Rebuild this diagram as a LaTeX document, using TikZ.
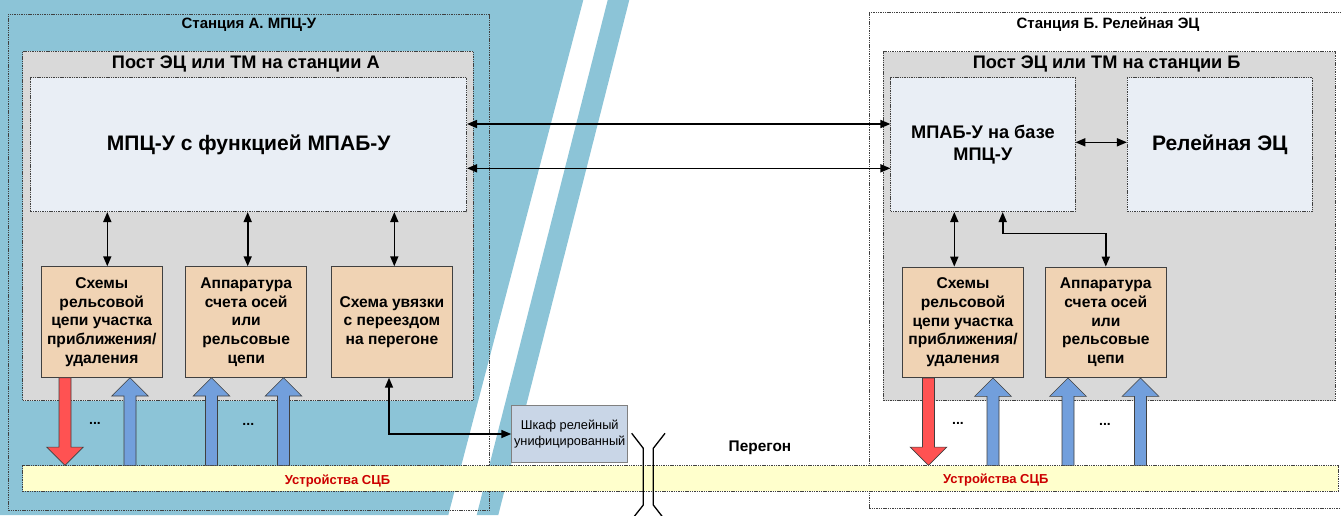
\documentclass[tikz,border=0pt]{standalone}
\usepackage{fontspec}
\setmainfont{Liberation Sans}
\usetikzlibrary{arrows.meta,calc}

\definecolor{bgblue}{HTML}{8CC4D7}
\definecolor{postgray}{HTML}{D9D9D9}
\definecolor{unitfill}{HTML}{E9EEF5}
\definecolor{blockfill}{HTML}{F0D3B4}
\definecolor{shkaffill}{HTML}{C9D6E7}
\definecolor{bandfill}{HTML}{FFFFCC}
\definecolor{fatred}{HTML}{FF5252}
\definecolor{fatblue}{HTML}{729FDC}
\definecolor{scbred}{HTML}{CC0000}
\definecolor{edgegray}{HTML}{404040}

\tikzset{
  dots/.style={draw=edgegray, line width=0.7pt, dash pattern=on 1.4pt off 0.9pt},
  stationbox/.style={dots, inner sep=0pt},
  postbox/.style={dots, fill=postgray, inner sep=0pt},
  unitbox/.style={dots, fill=unitfill, inner sep=0pt, align=center},
  blockbox/.style={draw=edgegray, line width=0.9pt, fill=blockfill, inner sep=0pt,
    minimum width=121pt, minimum height=110.5pt, align=center,
    font=\bfseries\fontsize{15.6}{18.75}\selectfont},
  shkafbox/.style={draw=gray, line width=0.9pt, fill=shkaffill, inner sep=0pt,
    minimum width=116pt, minimum height=56.6pt, align=center,
    font=\fontsize{12.8}{16.3}\selectfont},
  stitle/.style={font=\bfseries\fontsize{15}{18}\selectfont},
  ptitle/.style={font=\bfseries\fontsize{18.2}{21}\selectfont},
  dotstext/.style={font=\bfseries\fontsize{14}{16}\selectfont},
  scbtext/.style={text=scbred, font=\bfseries\fontsize{13}{16}\selectfont},
  link/.style={{Triangle[length=10pt,width=8pt]}-{Triangle[length=10pt,width=8pt]}, line width=1.6pt},
  redfat/.style={fill=fatred, draw=edgegray, line width=0.6pt},
  bluefat/.style={fill=fatblue, draw=edgegray, line width=0.6pt},
  brk/.style={line width=1.3pt}
}

% wide arrow between two points
\newcommand{\fatarrow}[3]{%
  \coordinate (fa) at (#2);
  \coordinate (fz) at (#3);
  \coordinate (fh) at ($(fz)!18.3pt!(fa)$);
  \draw[#1] ($(fa)!6pt!90:(fz)$) -- ($(fh)!6pt!90:(fz)$) -- ($(fh)!18.3pt!90:(fz)$) -- (fz)
    -- ($(fh)!18.3pt!-90:(fz)$) -- ($(fh)!6pt!-90:(fz)$) -- ($(fa)!6pt!-90:(fz)$) -- cycle;}

\begin{document}
\begin{tikzpicture}[x=1pt, y=-1pt]
    \useasboundingbox (0,0) rectangle (1341,515);
    \clip (0,0) rectangle (1341,515);
    % background
    \fill[bgblue] (0,0) -- (583.3,0) -- (448.3,515) -- (0,515) -- cycle;
    \fill[bgblue] (607.7,0) -- (629.3,0) -- (498.3,515) -- (476.7,515) -- cycle;

    % station A
    \node[stationbox, minimum width=481pt, minimum height=496.7pt] (stA) at (248.8,262.4) {};
    \node[stitle] (stAt) at (249,25) {Станция А. МПЦ-У};
    \node[postbox, minimum width=450.6pt, minimum height=349.5pt] (postA) at (248,225.8) {};
    \node[ptitle] (postAt) at (245.8,63.5) {Пост ЭЦ или ТМ на станции А};
    \node[unitbox, minimum width=436pt, minimum height=134pt,
      font=\bfseries\fontsize{21}{25}\selectfont] (mpcA) at (248.7,144.7) {МПЦ-У с функцией МПАБ-У};
    \node[blockbox] (rcA) at (101.7,322) {Схемы\\рельсовой\\цепи участка\\приближения/\\удаления};
    \node[blockbox] (acA) at (246.2,322) {Аппаратура\\счета осей\\или\\рельсовые\\цепи};
    \node[blockbox] (crossA) at (392,322) {Схема увязки\\с переездом\\на перегоне};

    % station B
    \node[stationbox, fill=white, minimum width=480.7pt, minimum height=495.3pt] (stB) at (1109.7,260.4) {};
    \node[stitle] (stBt) at (1108,24.5) {Станция Б. Релейная ЭЦ};
    \node[postbox, minimum width=451.7pt, minimum height=349pt] (postB) at (1109.2,226.2) {};
    \node[ptitle] (postBt) at (1106.7,63.5) {Пост ЭЦ или ТМ на станции Б};
    \node[unitbox, minimum width=184.3pt, minimum height=134pt,
      font=\bfseries\fontsize{18.2}{22}\selectfont] (mpabB) at (982.9,144.7) {МПАБ-У на базе\\МПЦ-У};
    \node[unitbox, minimum width=185pt, minimum height=134pt,
      font=\bfseries\fontsize{21}{25}\selectfont] (relB) at (1219.8,144.7) {Релейная ЭЦ};
    \node[blockbox] (rcB) at (963,322.3) {Схемы\\рельсовой\\цепи участка\\приближения/\\удаления};
    \node[blockbox] (acB) at (1105.8,322.3) {Аппаратура\\счета осей\\или\\рельсовые\\цепи};

    % peregon
    \node[shkafbox] (shkaf) at (569.7,434) {Шкаф релейный\\унифицированный};
    \node[font=\bfseries\fontsize{15.4}{18}\selectfont] (peregon) at (760,448) {Перегон};
    \node[dots, fill=bandfill, inner sep=0pt, minimum width=1315.6pt, minimum height=25.5pt] (band) at (680.5,478.5) {};
    \node[scbtext] (scbA) at (337.5,480.7) {Устройства СЦБ};
    \node[scbtext] (scbB) at (995.8,480) {Устройства СЦБ};
    \draw[brk] (631.7,433.3) -- (643.3,448.3) -- (643.3,505) -- (633,518);
    \draw[brk] (665,433.3) -- (653.3,448.3) -- (653.3,505) -- (663.4,518);

    % links
    \coordinate (cA1) at (107.3,0);
    \coordinate (cA2) at (247.7,0);
    \coordinate (cA3) at (394.3,0);
    \coordinate (cA4) at (389,0);
    \coordinate (cB1) at (954.3,0);
    \coordinate (cB2) at (1002.7,0);
    \draw[link] (mpcA.south -| cA1) -- (rcA.north -| cA1);
    \draw[link] (mpcA.south -| cA2) -- (acA.north -| cA2);
    \draw[link] (mpcA.south -| cA3) -- (crossA.north -| cA3);
    \draw[link] (crossA.south -| cA4) |- (shkaf.west);
    \draw[link] ([yshift=20.7pt]mpcA.east) -- ([yshift=20.7pt]mpabB.west);
    \draw[link] ([yshift=-23.6pt]mpcA.east) -- ([yshift=-23.6pt]mpabB.west);
    \draw[link] ([yshift=2.4pt]mpabB.east) -- ([yshift=2.4pt]relB.west);
    \draw[link] (mpabB.south -| cB1) -- (rcB.north -| cB1);
    \draw[link] (mpabB.south -| cB2) -- ++(0,21.6) -| (acB.north);

    % wide arrows
    \coordinate (fA1) at (65,0);
    \coordinate (fA2) at (130,0);
    \coordinate (fA3) at (211.5,0);
    \coordinate (fA4) at (283.5,0);
    \coordinate (fB1) at (928.5,0);
    \coordinate (fB2) at (993,0);
    \coordinate (fB3) at (1068,0);
    \coordinate (fB4) at (1140.5,0);
    \fatarrow{redfat}{rcA.south -| fA1}{band.north -| fA1}
    \fatarrow{bluefat}{band.north -| fA2}{rcA.south -| fA2}
    \fatarrow{bluefat}{band.north -| fA3}{acA.south -| fA3}
    \fatarrow{bluefat}{band.north -| fA4}{acA.south -| fA4}
    \fatarrow{redfat}{rcB.south -| fB1}{band.north -| fB1}
    \fatarrow{bluefat}{band.north -| fB2}{rcB.south -| fB2}
    \fatarrow{bluefat}{band.north -| fB3}{acB.south -| fB3}
    \fatarrow{bluefat}{band.north -| fB4}{acB.south -| fB4}
    \node[dotstext] (dA1) at (95,423) {...};
    \node[dotstext] (dA2) at (248.3,424.7) {...};
    \node[dotstext] (dB1) at (958,423) {...};
    \node[dotstext] (dB2) at (1105,424.7) {...};
\end{tikzpicture}
\end{document}
